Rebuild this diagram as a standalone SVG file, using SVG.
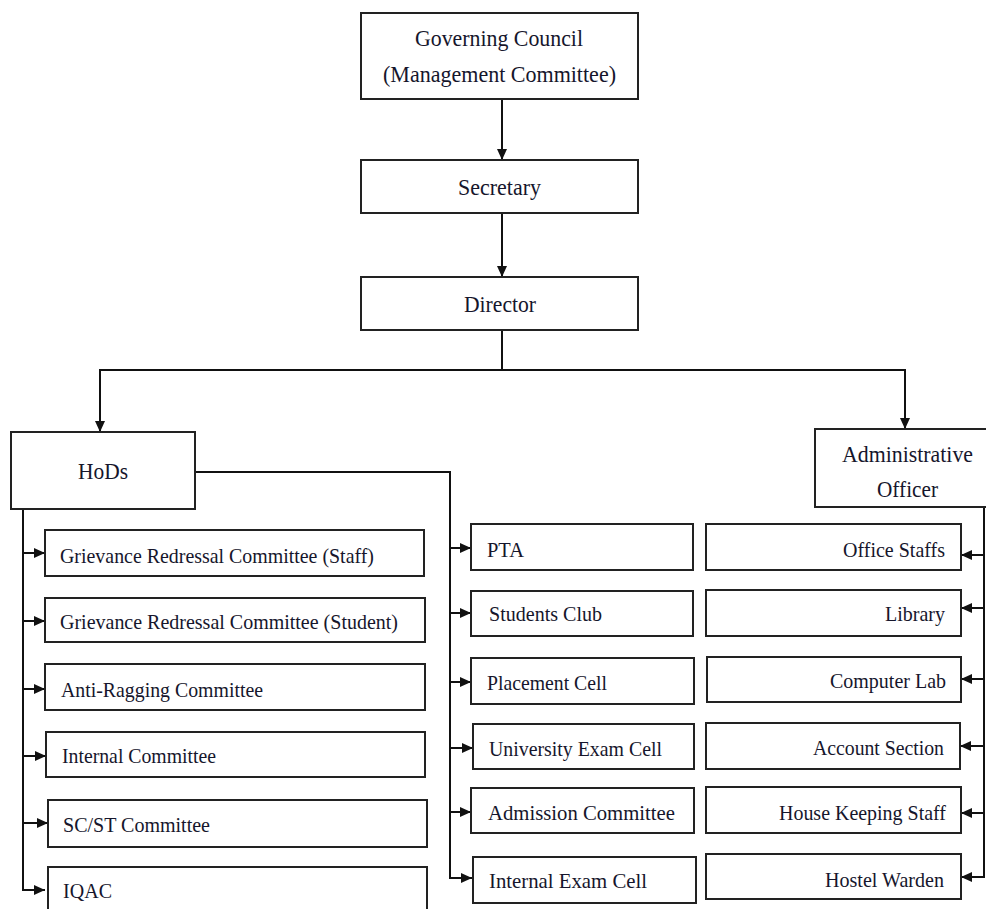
<svg xmlns="http://www.w3.org/2000/svg" width="986" height="909" viewBox="0 0 986 909">
<style>
.box{fill:#fff;stroke:#222;stroke-width:2}
.t{font-family:"Liberation Serif","Times New Roman",serif;font-size:22px;fill:#16162c}
.tb{font-family:"Liberation Serif","Times New Roman",serif;font-size:23.5px;fill:#16162c}
.c{text-anchor:middle}
.e{text-anchor:end}
.ln{fill:none;stroke:#111;stroke-width:2}
</style>
<defs>
<marker id="ah" markerUnits="userSpaceOnUse" markerWidth="11" markerHeight="10" refX="11" refY="5" orient="auto">
<path d="M0,0 L11,5 L0,10 z" fill="#111"/>
</marker>
</defs>
<rect width="986" height="909" fill="#fff"/>
<g id="connectors">
<path class="ln" d="M502,99 V160" marker-end="url(#ah)"/>
<path class="ln" d="M502,213 V277" marker-end="url(#ah)"/>
<path class="ln" d="M502,330 V370 H100 V432" stroke-width="1.5" marker-end="url(#ah)"/>
<path class="ln" d="M502,370 H905 V429" marker-end="url(#ah)"/>
<path class="ln" d="M23,509 V890 H45" marker-end="url(#ah)"/>
<path class="ln" d="M23,553 H45" marker-end="url(#ah)"/>
<path class="ln" d="M23,621 H45" marker-end="url(#ah)"/>
<path class="ln" d="M23,689 H45" marker-end="url(#ah)"/>
<path class="ln" d="M23,756 H46" marker-end="url(#ah)"/>
<path class="ln" d="M23,823 H48" marker-end="url(#ah)"/>
<path class="ln" d="M195,472 H450 V878 H472" marker-end="url(#ah)"/>
<path class="ln" d="M450,548 H471" marker-end="url(#ah)"/>
<path class="ln" d="M450,613 H471" marker-end="url(#ah)"/>
<path class="ln" d="M450,682 H471" marker-end="url(#ah)"/>
<path class="ln" d="M450,748 H473" marker-end="url(#ah)"/>
<path class="ln" d="M450,812 H471" marker-end="url(#ah)"/>
<path class="ln" d="M984,507 V877 H961" marker-end="url(#ah)"/>
<path class="ln" d="M984,555 H961" marker-end="url(#ah)"/>
<path class="ln" d="M984,608 H961" marker-end="url(#ah)"/>
<path class="ln" d="M984,679 H961" marker-end="url(#ah)"/>
<path class="ln" d="M984,746 H960" marker-end="url(#ah)"/>
<path class="ln" d="M984,813 H961" marker-end="url(#ah)"/>
</g>
<g id="governing-council">
<rect class="box" x="361" y="13" width="277" height="86"/>
<text class="tb c" x="499" y="46" textLength="168" lengthAdjust="spacingAndGlyphs">Governing Council</text>
<text class="tb c" x="499.5" y="82" textLength="233" lengthAdjust="spacingAndGlyphs">(Management Committee)</text>
</g>
<g id="secretary">
<rect class="box" x="361" y="160" width="277" height="53"/>
<text class="tb c" x="499.5" y="195" textLength="83" lengthAdjust="spacingAndGlyphs">Secretary</text>
</g>
<g id="director">
<rect class="box" x="361" y="277" width="277" height="53"/>
<text class="tb c" x="500" y="312" textLength="72" lengthAdjust="spacingAndGlyphs">Director</text>
</g>
<g id="hods">
<rect class="box" x="11" y="432" width="184" height="77"/>
<text class="tb c" x="103" y="479" textLength="50" lengthAdjust="spacingAndGlyphs">HoDs</text>
</g>
<g id="administrative-officer">
<rect class="box" x="815" y="429" width="175" height="78"/>
<text class="tb c" x="907.5" y="462" textLength="131" lengthAdjust="spacingAndGlyphs">Administrative</text>
<text class="tb c" x="907.5" y="497" textLength="61" lengthAdjust="spacingAndGlyphs">Officer</text>
</g>
<g id="grievance-staff">
<rect class="box" x="45" y="530" width="379" height="46"/>
<text class="t" x="60" y="563" textLength="314" lengthAdjust="spacingAndGlyphs">Grievance Redressal Committee (Staff)</text>
</g>
<g id="grievance-student">
<rect class="box" x="45" y="598" width="380" height="44"/>
<text class="t" x="60" y="629" textLength="338" lengthAdjust="spacingAndGlyphs">Grievance Redressal Committee (Student)</text>
</g>
<g id="anti-ragging">
<rect class="box" x="45" y="664" width="380" height="46"/>
<text class="t" x="61" y="697" textLength="202" lengthAdjust="spacingAndGlyphs">Anti-Ragging Committee</text>
</g>
<g id="internal-committee">
<rect class="box" x="46" y="732" width="379" height="45"/>
<text class="t" x="62" y="763" textLength="154" lengthAdjust="spacingAndGlyphs">Internal Committee</text>
</g>
<g id="scst-committee">
<rect class="box" x="48" y="800" width="379" height="47"/>
<text class="t" x="63" y="832" textLength="147" lengthAdjust="spacingAndGlyphs">SC/ST Committee</text>
</g>
<g id="iqac">
<rect class="box" x="48" y="867" width="379" height="60"/>
<text class="t" x="63" y="898" textLength="49" lengthAdjust="spacingAndGlyphs">IQAC</text>
</g>
<g id="pta">
<rect class="box" x="471" y="524" width="222" height="46"/>
<text class="t" x="487" y="557" textLength="37" lengthAdjust="spacingAndGlyphs">PTA</text>
</g>
<g id="students-club">
<rect class="box" x="471" y="591" width="222" height="45"/>
<text class="t" x="489" y="621" textLength="113" lengthAdjust="spacingAndGlyphs">Students Club</text>
</g>
<g id="placement-cell">
<rect class="box" x="471" y="658" width="223" height="46"/>
<text class="t" x="487" y="690" textLength="120" lengthAdjust="spacingAndGlyphs">Placement Cell</text>
</g>
<g id="university-exam-cell">
<rect class="box" x="473" y="724" width="221" height="45"/>
<text class="t" x="489" y="756" textLength="173" lengthAdjust="spacingAndGlyphs">University Exam Cell</text>
</g>
<g id="admission-committee">
<rect class="box" x="471" y="788" width="223" height="45"/>
<text class="t" x="488" y="820" textLength="187" lengthAdjust="spacingAndGlyphs">Admission Committee</text>
</g>
<g id="internal-exam-cell">
<rect class="box" x="473" y="857" width="223" height="46"/>
<text class="t" x="489" y="888" textLength="158" lengthAdjust="spacingAndGlyphs">Internal Exam Cell</text>
</g>
<g id="office-staffs">
<rect class="box" x="706" y="524" width="255" height="46"/>
<text class="t e" x="945" y="557" textLength="102" lengthAdjust="spacingAndGlyphs">Office Staffs</text>
</g>
<g id="library">
<rect class="box" x="706" y="590" width="255" height="46"/>
<text class="t e" x="945" y="621" textLength="60" lengthAdjust="spacingAndGlyphs">Library</text>
</g>
<g id="computer-lab">
<rect class="box" x="707" y="657" width="254" height="45"/>
<text class="t e" x="946" y="688" textLength="116" lengthAdjust="spacingAndGlyphs">Computer Lab</text>
</g>
<g id="account-section">
<rect class="box" x="706" y="723" width="254" height="46"/>
<text class="t e" x="944" y="755" textLength="131" lengthAdjust="spacingAndGlyphs">Account Section</text>
</g>
<g id="house-keeping-staff">
<rect class="box" x="706" y="787" width="255" height="46"/>
<text class="t e" x="946" y="820" textLength="167" lengthAdjust="spacingAndGlyphs">House Keeping Staff</text>
</g>
<g id="hostel-warden">
<rect class="box" x="706" y="854" width="255" height="45"/>
<text class="t e" x="944" y="887" textLength="119" lengthAdjust="spacingAndGlyphs">Hostel Warden</text>
</g>
</svg>
